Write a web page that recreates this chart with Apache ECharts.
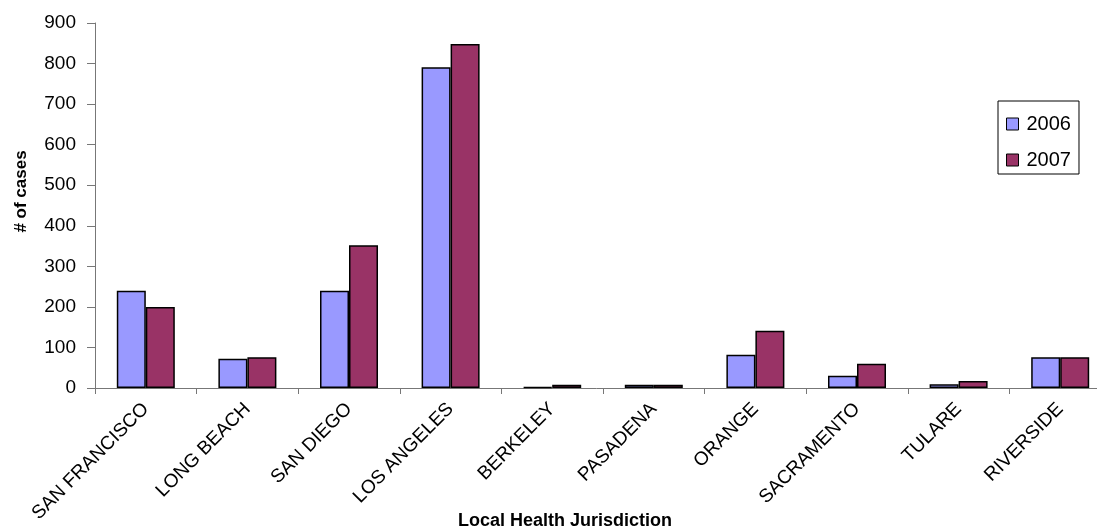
<!DOCTYPE html>
<html>
<head>
<meta charset="utf-8">
<script src="https://cdn.jsdelivr.net/npm/echarts@6/dist/echarts.min.js"></script>
<style>html,body{margin:0;padding:0;background:#fff}#c{width:1097px;height:531px}</style>
</head>
<body>
<div id="c"></div>
<script>
const categories = ['SAN FRANCISCO','LONG BEACH','SAN DIEGO','LOS ANGELES','BERKELEY','PASADENA','ORANGE','SACRAMENTO','TULARE','RIVERSIDE'];
const values2006 = [240, 72, 240, 791, 2, 8, 82, 30, 9, 76];
const values2007 = [200, 76, 352, 848, 8, 8, 141, 60, 17, 76];
const seriesNames = ['2006', '2007'];
const yTicks = {min: 0, max: 900, interval: 100};

const chart = echarts.init(document.getElementById('c'));
const font = 'Liberation Sans, Arial, sans-serif';
chart.setOption({
  animation: false,
  backgroundColor: '#fff',
  grid: {left: 95, top: 23, bottom: 143, width: 1016, containLabel: false, outerBoundsMode: 'none'},
  legend: {
    orient: 'vertical',
    left: 998, top: 101,
    padding: [13, 8, 4, 8],
    icon: 'rect',
    itemWidth: 12, itemHeight: 12, itemGap: 16,
    borderColor: '#000', borderWidth: 1,
    textStyle: {fontFamily: font, fontSize: 20, color: '#000', padding: [0,0,0,3]},
    data: seriesNames.map(n => ({name: n, itemStyle: {borderColor: '#000', borderWidth: 1}}))
  },
  xAxis: {
    type: 'category',
    data: categories,
    name: 'Local Health Jurisdiction',
    nameLocation: 'middle',
    nameGap: 124,
    nameMoveOverlap: false,
    nameTextStyle: {fontFamily: font, fontSize: 18, fontWeight: 'bold', color: '#000', padding: [0, 76, 0, 0]},
    axisLine: {lineStyle: {color: '#777', width: 1}},
    axisTick: {show: true, length: 6, lineStyle: {color: '#777'}},
    axisLabel: {rotate: 45, margin: 18, fontFamily: font, fontSize: 19, color: '#000', interval: 0}
  },
  yAxis: {
    type: 'value',
    min: yTicks.min, max: yTicks.max, interval: yTicks.interval,
    name: '# of cases',
    nameLocation: 'middle',
    nameGap: 65,
    nameMoveOverlap: false,
    nameTextStyle: {fontFamily: font, fontSize: 17, fontWeight: 'bold', color: '#000', padding: [0, 0, 0, 28]},
    axisLine: {show: true, lineStyle: {color: '#777', width: 1}},
    axisTick: {show: true, length: 8, lineStyle: {color: '#777'}},
    splitLine: {show: false},
    axisLabel: {margin: 19, fontFamily: font, fontSize: 19, color: '#000'}
  },
  series: [
    {name: seriesNames[0], type: 'bar', data: values2006, barWidth: 29, barGap: '0%',
     itemStyle: {color: '#9999FF', borderColor: '#000', borderWidth: 1.5}},
    {name: seriesNames[1], type: 'bar', data: values2007, barWidth: 29, barGap: '0%',
     itemStyle: {color: '#993366', borderColor: '#000', borderWidth: 1.5}}
  ]
});
</script>
</body>
</html>
